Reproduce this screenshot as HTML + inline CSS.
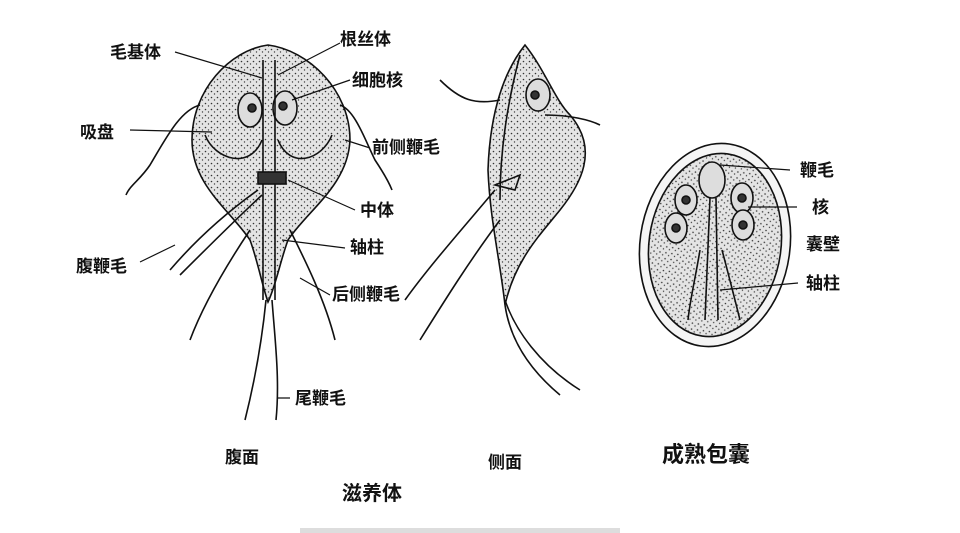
<!DOCTYPE html>
<html><head><meta charset="utf-8"><style>
body{margin:0;background:#fff;width:960px;height:533px;overflow:hidden}
svg{display:block}
text{font-family:"Liberation Sans","Noto Sans CJK SC",sans-serif;fill:#111;font-weight:bold}
</style></head><body>
<svg width="960" height="533" viewBox="0 0 960 533">
<defs>
<pattern id="dots" width="6" height="6" patternUnits="userSpaceOnUse">
<rect width="6" height="6" fill="#e4e4e4"/>
<circle cx="1.5" cy="1.5" r="0.8" fill="#333"/><circle cx="4.5" cy="4" r="0.7" fill="#444"/>
</pattern>
</defs>
<g fill="none" stroke="#111" stroke-width="1.6">
<path d="M268,45 C230,50 192,90 192,140 C192,185 230,210 250,240 C258,262 262,285 268,302 C276,285 280,262 288,240 C308,210 348,185 350,140 C350,90 308,50 268,45 Z" fill="url(#dots)"/>
<path d="M205,135 C215,160 250,170 262,140 M332,135 C322,160 290,170 278,140"/>
<ellipse cx="250" cy="110" rx="12" ry="17" fill="#ddd"/><circle cx="252" cy="108" r="4" fill="#333"/>
<ellipse cx="285" cy="108" rx="12" ry="17" fill="#ddd"/><circle cx="283" cy="106" r="4" fill="#333"/>
<path d="M263,60 L263,300 M275,60 L275,300"/>
<rect x="258" y="172" width="28" height="12" fill="#333"/>
<path d="M200,105 C180,110 165,140 150,165 C140,180 130,185 126,195 M340,105 C355,110 365,140 375,160 C385,175 390,185 392,190"/>
<path d="M258,190 C230,210 200,235 170,270 M262,195 C235,220 210,245 180,275"/>
<path d="M250,230 C230,260 205,300 190,340 M290,230 C305,260 325,300 335,340"/>
<path d="M266,300 C262,340 255,380 245,420 M272,300 C275,340 280,380 276,420"/>
<path d="M525,45 C505,70 490,110 488,170 C490,220 500,260 505,305 C515,260 540,235 560,210 C580,185 600,150 570,115 C555,100 545,70 525,45 Z" fill="url(#dots)"/>
<path d="M520,55 C508,100 500,150 500,200"/>
<ellipse cx="538" cy="95" rx="12" ry="16" fill="#ddd"/><circle cx="535" cy="95" r="4" fill="#333"/>
<path d="M440,80 C460,100 475,105 500,100 M545,115 C570,115 590,120 600,125"/>
<path d="M495,185 L520,175 L515,190 Z"/>
<path d="M495,190 C470,220 430,265 405,300 M500,220 C470,260 445,300 420,340"/>
<path d="M505,300 C515,330 540,365 580,390 M505,305 C510,340 530,370 560,395"/>
<ellipse cx="715" cy="245" rx="75" ry="102" transform="rotate(8 715 245)" fill="#f5f5f5"/>
<ellipse cx="715" cy="245" rx="66" ry="92" transform="rotate(8 715 245)" fill="url(#dots)"/>
<ellipse cx="712" cy="180" rx="13" ry="18" fill="#ddd"/>
<ellipse cx="686" cy="200" rx="11" ry="15" fill="#ddd"/><circle cx="686" cy="200" r="4" fill="#333"/>
<ellipse cx="676" cy="228" rx="11" ry="15" fill="#ddd"/><circle cx="676" cy="228" r="4" fill="#333"/>
<ellipse cx="742" cy="198" rx="11" ry="15" fill="#ddd"/><circle cx="742" cy="198" r="4" fill="#333"/>
<ellipse cx="743" cy="225" rx="11" ry="15" fill="#ddd"/><circle cx="743" cy="225" r="4" fill="#333"/>
<path d="M710,198 L705,320 M716,198 L718,320 M700,250 C695,280 690,300 688,320 M722,250 C730,280 735,300 740,320"/>
</g>
<g stroke="#111" stroke-width="1.2" fill="none">
<path d="M175,52 L262,78 M340,43 L278,75 M350,80 L292,100 M130,130 L212,132 M370,148 L345,140 M355,210 L288,180 M140,262 L175,245 M345,248 L282,240 M330,295 L300,278 M290,398 L278,398 M790,170 L720,165 M797,207 L748,207 M798,283 L720,290"/>
</g>
<g font-size="17">
<text x="110" y="58">毛基体</text>
<text x="340" y="45">根丝体</text>
<text x="352" y="86">细胞核</text>
<text x="80" y="138">吸盘</text>
<text x="372" y="153">前侧鞭毛</text>
<text x="360" y="216">中体</text>
<text x="76" y="272">腹鞭毛</text>
<text x="350" y="253">轴柱</text>
<text x="332" y="300">后侧鞭毛</text>
<text x="295" y="404">尾鞭毛</text>
<text x="225" y="463">腹面</text>
<text x="488" y="468">侧面</text>
<text x="342" y="500" font-size="20">滋养体</text>
<text x="662" y="462" font-size="22">成熟包囊</text>
<text x="800" y="176">鞭毛</text>
<text x="812" y="213">核</text>
<text x="806" y="250">囊壁</text>
<text x="806" y="289">轴柱</text>
</g>
<rect x="300" y="528" width="320" height="5" fill="#ddd"/>
</svg>
</body></html>
